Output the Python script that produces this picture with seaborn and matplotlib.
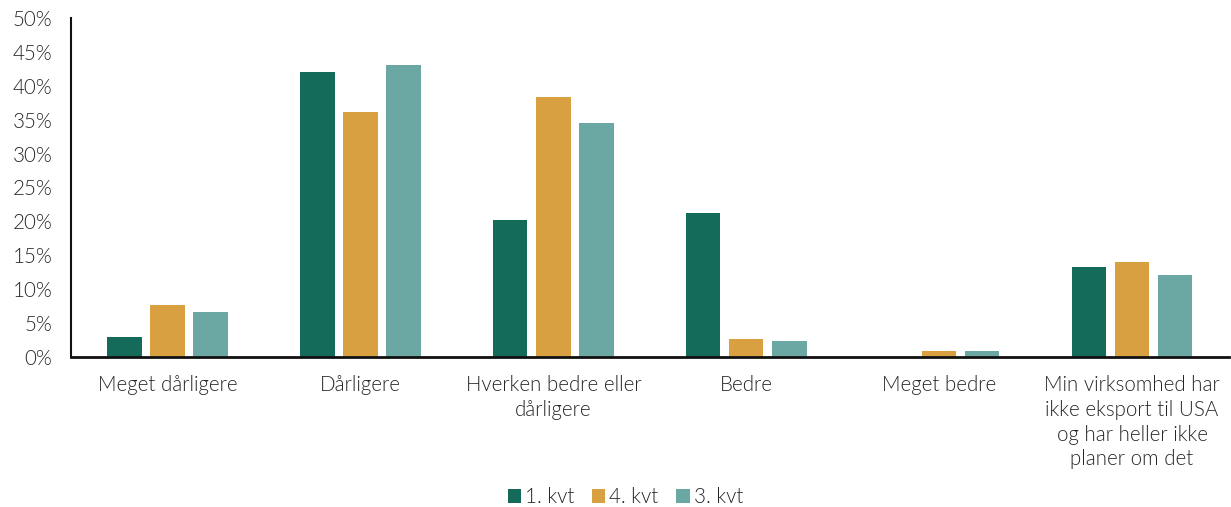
import matplotlib
matplotlib.use("Agg")
import matplotlib.pyplot as plt
import seaborn as sns
import pandas as pd
from matplotlib.ticker import FuncFormatter, MultipleLocator

categories = [
    "Meget dårligere",
    "Dårligere",
    "Hverken bedre eller\ndårligere",
    "Bedre",
    "Meget bedre",
    "Min virksomhed har\nikke eksport til USA\nog har heller ikke\nplaner om det",
]
series = ["1. kvt", "4. kvt", "3. kvt"]
q1 = [3.0, 42.0, 20.2, 21.2, 0.0, 13.3]
q4 = [7.6, 36.1, 38.3, 2.7, 0.9, 14.0]
q3 = [6.7, 43.0, 34.5, 2.4, 0.9, 12.1]
colors = ["#146B5A", "#D9A042", "#6BA8A3"]

rows = []
for name, vals in zip(series, [q1, q4, q3]):
    for cat, v in zip(categories, vals):
        rows.append({"kategori": cat, "serie": name, "andel": v})
df = pd.DataFrame(rows)

sns.set_theme(style="white")
plt.rcParams["font.family"] = ["Lato", "DejaVu Sans"]
plt.rcParams["font.weight"] = 300
text_color = "#262626"
fs = 14.8

fig = plt.figure(figsize=(12.31, 5.07), dpi=100)
ax = fig.add_axes([0.0577, 0.2959, 0.9403, 0.6686])

sns.barplot(data=df, x="kategori", y="andel", hue="serie", hue_order=series,
            palette=colors, width=0.67, gap=0.2, saturation=1, errorbar=None,
            ax=ax, linewidth=0)

ax.set_ylim(0, 50)
ax.set_xlim(-0.5, len(categories) - 0.5)
ax.yaxis.set_major_locator(MultipleLocator(5))
ax.yaxis.set_major_formatter(FuncFormatter(lambda v, p: f"{v:.0f}%"))
ax.set_xlabel("")
ax.set_ylabel("")
ax.tick_params(axis="both", length=0, labelsize=fs, colors=text_color)
ax.tick_params(axis="y", pad=13.5)
ax.tick_params(axis="x", pad=13)
for lbl in ax.get_xticklabels() + ax.get_yticklabels():
    lbl.set_fontweight(300)
for lbl in ax.get_xticklabels():
    lbl.set_verticalalignment("top")
    lbl.set_linespacing(1.3)

for side in ["top", "right"]:
    ax.spines[side].set_visible(False)
ax.spines["left"].set_color("#111111")
ax.spines["left"].set_linewidth(1.5)
ax.spines["bottom"].set_color("#111111")
ax.spines["bottom"].set_linewidth(2)

handles, labels = ax.get_legend_handles_labels()
ax.legend_.remove()
fig.legend(handles, labels, loc="center", bbox_to_anchor=(0.508, 0.019),
           ncol=3, frameon=False, handlelength=0.65,
           handleheight=0.65, handletextpad=0.2, columnspacing=0.85,
           labelcolor=text_color, prop={"size": fs, "weight": 300})

fig.savefig("out.png", dpi=100)
